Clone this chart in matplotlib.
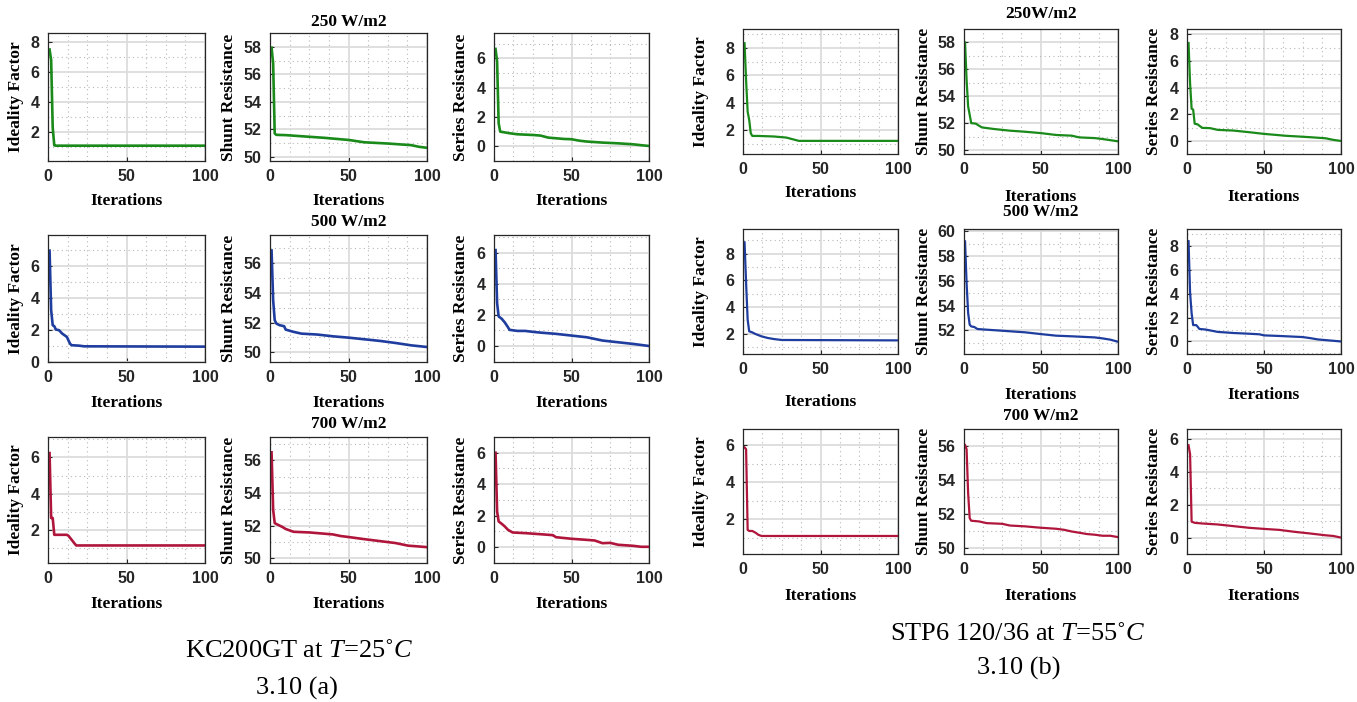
import matplotlib
matplotlib.use("Agg")
import matplotlib.pyplot as plt
from matplotlib.ticker import MultipleLocator

plt.rcParams['mathtext.fontset'] = 'custom'
plt.rcParams['mathtext.rm'] = 'Liberation Serif'
plt.rcParams['mathtext.it'] = 'Liberation Serif:italic'

# ---------------- data: (a) KC200GT at T=25C ----------------
A250_IF_X = [1, 2, 3, 4, 5, 100]
A250_IF_Y = [7.5, 6.8, 2.3, 1.12, 1.1, 1.1]
A250_RSH_X = [1, 2, 3, 4, 10, 20, 35, 50, 60, 75, 90, 95, 100]
A250_RSH_Y = [57.93, 56.8, 51.7, 51.6, 51.58, 51.5, 51.38, 51.23, 51.06, 50.97, 50.85, 50.73, 50.66]
A250_RS_X = [1, 2, 3, 4, 10, 15, 25, 30, 35, 45, 50, 55, 60, 70, 80, 90, 95, 100]
A250_RS_Y = [6.64, 5.77, 1.55, 0.98, 0.87, 0.8, 0.75, 0.71, 0.57, 0.48, 0.46, 0.36, 0.3, 0.23, 0.18, 0.11, 0.05, 0.0]

A500_IF_X = [1, 2, 3, 4, 5, 7, 9, 12, 14, 15, 20, 23, 100]
A500_IF_Y = [6.96, 3.24, 2.3, 2.24, 2.03, 1.99, 1.78, 1.57, 1.15, 1.05, 1.02, 0.98, 0.96]
A500_RSH_X = [1, 2, 3, 4, 6, 9, 10, 15, 20, 30, 40, 50, 60, 70, 80, 90, 100]
A500_RSH_Y = [56.86, 53.52, 52.17, 51.94, 51.83, 51.76, 51.53, 51.38, 51.26, 51.2, 51.08, 50.99, 50.88, 50.77, 50.63, 50.47, 50.36]
A500_RS_X = [1, 2, 3, 5, 7, 9, 10, 15, 20, 25, 30, 40, 50, 60, 70, 80, 90, 100]
A500_RS_Y = [6.17, 2.76, 1.9, 1.75, 1.51, 1.21, 1.04, 0.97, 0.97, 0.91, 0.86, 0.78, 0.67, 0.56, 0.35, 0.24, 0.13, 0.0]

A700_IF_X = [1, 2, 3, 4, 12, 13, 15, 17, 18, 100]
A700_IF_Y = [6.24, 2.65, 2.65, 1.72, 1.72, 1.67, 1.45, 1.23, 1.13, 1.13]
A700_RSH_X = [1, 2, 3, 5, 8, 10, 15, 25, 35, 40, 45, 50, 60, 70, 80, 88, 95, 100]
A700_RSH_Y = [56.49, 52.98, 52.16, 52.06, 51.92, 51.8, 51.63, 51.59, 51.51, 51.47, 51.37, 51.31, 51.18, 51.06, 50.94, 50.78, 50.73, 50.69]
A700_RS_X = [1, 2, 3, 5, 7, 9, 12, 20, 30, 38, 40, 50, 60, 65, 70, 75, 80, 90, 95, 100]
A700_RS_Y = [6.0, 2.26, 1.63, 1.48, 1.31, 1.1, 0.93, 0.89, 0.82, 0.76, 0.63, 0.53, 0.46, 0.42, 0.25, 0.27, 0.15, 0.08, 0.02, 0.02]

# ---------------- data: (b) STP6 120/36 at T=55C ----------------
B250_IF_X = [1, 2, 3, 4, 5, 6, 10, 20, 28, 32, 36, 100]
B250_IF_Y = [8.34, 5.63, 3.33, 2.73, 1.76, 1.56, 1.56, 1.52, 1.44, 1.32, 1.2, 1.2]
B250_RSH_X = [1, 2, 3, 5, 8, 10, 12, 20, 30, 40, 50, 55, 60, 70, 75, 85, 90, 100]
B250_RSH_Y = [58.0, 55.23, 53.26, 52.02, 51.98, 51.83, 51.7, 51.58, 51.46, 51.38, 51.28, 51.21, 51.14, 51.09, 50.96, 50.91, 50.84, 50.67]
B250_RS_X = [1, 2, 3, 4, 5, 7, 8, 10, 15, 20, 30, 40, 50, 60, 65, 70, 80, 90, 95, 100]
B250_RS_Y = [7.35, 4.32, 2.42, 2.35, 1.29, 1.24, 1.14, 0.98, 0.96, 0.83, 0.78, 0.66, 0.53, 0.43, 0.38, 0.35, 0.28, 0.2, 0.08, 0.0]

B500_IF_X = [1, 2, 3, 4, 6, 8, 12, 16, 20, 25, 100]
B500_IF_Y = [8.85, 5.8, 3.05, 2.18, 2.1, 1.98, 1.8, 1.68, 1.6, 1.53, 1.5]
B500_RSH_X = [1, 2, 3, 4, 5, 7, 9, 12, 25, 40, 50, 60, 70, 85, 90, 95, 100]
B500_RSH_Y = [59.19, 55.82, 53.4, 52.46, 52.32, 52.27, 52.11, 52.08, 51.97, 51.84, 51.7, 51.57, 51.52, 51.43, 51.35, 51.25, 51.08]
B500_RS_X = [1, 2, 3, 4, 6, 7, 8, 12, 20, 30, 40, 47, 50, 60, 75, 80, 85, 100]
B500_RS_Y = [8.4, 4.07, 2.36, 1.37, 1.37, 1.22, 1.05, 1.0, 0.8, 0.71, 0.65, 0.6, 0.51, 0.46, 0.37, 0.28, 0.17, 0.0]

B700_IF_X = [1, 2, 3, 4, 6, 8, 10, 12, 100]
B700_IF_Y = [5.87, 5.77, 1.43, 1.37, 1.37, 1.28, 1.16, 1.1, 1.1]
B700_RSH_X = [1, 2, 3, 4, 5, 10, 15, 25, 30, 40, 50, 60, 65, 70, 80, 85, 90, 95, 100]
B700_RSH_Y = [56.04, 55.79, 53.21, 51.75, 51.6, 51.56, 51.46, 51.42, 51.32, 51.27, 51.19, 51.13, 51.07, 50.97, 50.82, 50.78, 50.72, 50.72, 50.64]
B700_RS_X = [1, 2, 3, 5, 10, 20, 30, 40, 50, 60, 70, 80, 90, 95, 100]
B700_RS_Y = [5.63, 5.08, 0.97, 0.9, 0.86, 0.8, 0.7, 0.6, 0.53, 0.47, 0.35, 0.25, 0.14, 0.1, 0.0]

YLABELS = ["Ideality Factor", "Shunt Resistance", "Series Resistance"]
XLABEL = "Iterations"
TITLES_A = ["250 W/m2", "500 W/m2", "700 W/m2"]
TITLES_B = ["250W/m2", "500 W/m2", "700 W/m2"]
CAPTION_A = ["KC200GT at $T$=25\u02da$C$", "3.10 (a)"]
CAPTION_B = ["STP6 120/36 at $T$=55\u02da$C$", "3.10 (b)"]

GREEN = "#1a8a1a"
BLUE = "#1f3d9e"
RED = "#b0163c"
ROW_COLORS = [GREEN, BLUE, RED]

W, H = 1357, 702
fig = plt.figure(figsize=(W / 100, H / 100), dpi=100)

SERIF = "Liberation Serif"
SANS = "Liberation Sans"


def make_axes(x0, x1, y0, y1):
    return fig.add_axes([x0 / W, 1 - y1 / H, (x1 - x0) / W, (y1 - y0) / H])


def style(ax, ylim, x0, x1, y0, y1, ylab_off, xlab_y, ylabel):
    ax.set_xlim(0, 100)
    ax.set_ylim(*ylim)
    ax.xaxis.set_major_locator(MultipleLocator(50))
    ax.xaxis.set_minor_locator(MultipleLocator(12.5))
    ax.yaxis.set_major_locator(MultipleLocator(2))
    ax.yaxis.set_minor_locator(MultipleLocator(1))
    ax.grid(which='major', color='#dcdcdc', lw=1.3, ls='-')
    ax.grid(which='minor', color='#b8b8b8', lw=0.8, ls=(0, (1, 3)))
    ax.set_axisbelow(True)
    ax.tick_params(which='major', direction='in', length=3, width=0.8,
                   colors='#262626', labelsize=11.5)
    ax.tick_params(which='minor', direction='in', length=0)
    ax.tick_params(axis='x', pad=6)
    ax.tick_params(axis='y', pad=6)
    for lab in ax.get_xticklabels() + ax.get_yticklabels():
        lab.set_fontfamily(SANS)
        lab.set_fontweight('bold')
    for sp in ax.spines.values():
        sp.set_color('#262626')
        sp.set_linewidth(0.9)
    w = x1 - x0
    h = y1 - y0
    ax.set_ylabel(ylabel, fontfamily=SERIF, fontweight='bold', fontsize=12.5, va='center')
    ax.yaxis.set_label_coords(-ylab_off / w, 0.5)
    ax.set_xlabel(XLABEL, fontfamily=SERIF, fontweight='bold', fontsize=12.5, va='center')
    ax.xaxis.set_label_coords(0.5, -(xlab_y - y1) / h)


def title(ax, text, y_center, y0, y1):
    h = y1 - y0
    ax.text(0.5, 1 + (y0 - y_center) / h, text, transform=ax.transAxes,
            ha='center', va='center', fontfamily=SERIF, fontweight='bold', fontsize=12.5)


# ---------------- panel (a) ----------------
A_COLS = [(48, 205), (270, 427), (494, 649)]
A_ROWS = [(33, 161), (235, 362), (437, 563)]
A_YOFF = [32, 41, 33]
A_XLAB = [201, 403, 604]
A_TITLE_Y = [22, 222, 424]
A_DATA = [
    [(A250_IF_X, A250_IF_Y), (A250_RSH_X, A250_RSH_Y), (A250_RS_X, A250_RS_Y)],
    [(A500_IF_X, A500_IF_Y), (A500_RSH_X, A500_RSH_Y), (A500_RS_X, A500_RS_Y)],
    [(A700_IF_X, A700_IF_Y), (A700_RSH_X, A700_RSH_Y), (A700_RS_X, A700_RS_Y)],
]
A_YLIM = [
    [(0.08, 8.6), (49.7, 59.0), (-1.03, 7.73)],
    [(0.0, 7.94), (49.35, 57.9), (-1.03, 7.14)],
    [(0.16, 7.13), (49.72, 57.43), (-1.01, 7.0)],
]

for r in range(3):
    y0, y1 = A_ROWS[r]
    for c in range(3):
        x0, x1 = A_COLS[c]
        ax = make_axes(x0, x1, y0, y1)
        xs, ys = A_DATA[r][c]
        ax.plot(xs, ys, color=ROW_COLORS[r], lw=1.9)
        style(ax, A_YLIM[r][c], x0, x1, y0, y1, A_YOFF[c], A_XLAB[r], YLABELS[c])
        if c == 1:
            title(ax, TITLES_A[r], A_TITLE_Y[r], y0, y1)

# ---------------- panel (b) ----------------
B_COLS = [(743, 898), (963.5, 1118), (1187, 1341)]
B_ROWS = [(29, 154), (229, 354), (429, 554)]
B_YOFF = [42, 40, 33]
B_XLAB = [[193, 197, 197], [401.5, 395, 395], [596, 596, 596]]
B_TITLE_Y = [14, 212.5, 416]
B_DATA = [
    [(B250_IF_X, B250_IF_Y), (B250_RSH_X, B250_RSH_Y), (B250_RS_X, B250_RS_Y)],
    [(B500_IF_X, B500_IF_Y), (B500_RSH_X, B500_RSH_Y), (B500_RS_X, B500_RS_Y)],
    [(B700_IF_X, B700_IF_Y), (B700_RSH_X, B700_RSH_Y), (B700_RS_X, B700_RS_Y)],
]
B_YLIM = [
    [(0.24, 9.38), (49.73, 59.0), (-0.98, 8.4)],
    [(0.48, 9.85), (50.09, 60.19), (-1.05, 9.42)],
    [(0.13, 6.86), (49.65, 56.98), (-1.0, 6.62)],
]

for r in range(3):
    y0, y1 = B_ROWS[r]
    for c in range(3):
        x0, x1 = B_COLS[c]
        ax = make_axes(x0, x1, y0, y1)
        xs, ys = B_DATA[r][c]
        ax.plot(xs, ys, color=ROW_COLORS[r], lw=1.6)
        style(ax, B_YLIM[r][c], x0, x1, y0, y1, B_YOFF[c], B_XLAB[r][c], YLABELS[c])
        if c == 1:
            title(ax, TITLES_B[r], B_TITLE_Y[r], y0, y1)

# ---------------- captions ----------------
fig.text(299 / W, 1 - 651 / H, CAPTION_A[0], ha='center', va='center',
         fontfamily=SERIF, fontsize=19)
fig.text(297 / W, 1 - 688 / H, CAPTION_A[1], ha='center', va='center',
         fontfamily=SERIF, fontsize=19)
fig.text(1018 / W, 1 - 634 / H, CAPTION_B[0], ha='center', va='center',
         fontfamily=SERIF, fontsize=19)
fig.text(1019 / W, 1 - 668 / H, CAPTION_B[1], ha='center', va='center',
         fontfamily=SERIF, fontsize=19)

fig.savefig("out.png", dpi=100, facecolor='white')
